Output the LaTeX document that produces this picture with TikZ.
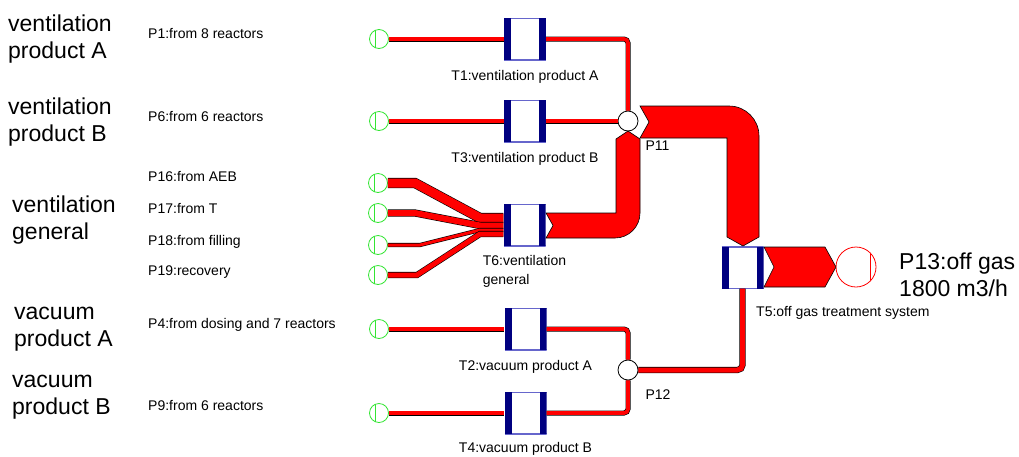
\documentclass[tikz,border=0pt]{standalone}
\usepackage{fontspec}
\setmainfont{Liberation Sans}
\usepackage{tikz}
\usetikzlibrary{positioning}
\definecolor{pipered}{rgb}{1,0,0}
\definecolor{tanknavy}{rgb}{0,0,0.5}
\definecolor{tankline}{rgb}{0.4,0.4,0.8}
\definecolor{srcgreen}{rgb}{0.2,0.9,0.2}
\tikzset{
    tank/.style={minimum width=42pt, minimum height=42pt, inner sep=0pt, fill=white,
        path picture={
            \draw[tankline, line width=2pt] (path picture bounding box.north west) -- (path picture bounding box.north east)
                (path picture bounding box.south west) -- (path picture bounding box.south east);
            \fill[tanknavy] (path picture bounding box.north west) rectangle ([xshift=7pt]path picture bounding box.south west);
            \fill[tanknavy] (path picture bounding box.north east) rectangle ([xshift=-7pt]path picture bounding box.south east);
        }},
    source/.style={circle, draw=srcgreen, line width=0.8pt, fill=white, minimum size=19pt, inner sep=0pt,
        path picture={\draw[srcgreen, line width=0.8pt] ([xshift=-4pt]path picture bounding box.north) -- ([xshift=-4pt]path picture bounding box.south);}},
    sink/.style={circle, draw=pipered, line width=0.8pt, fill=white, minimum size=40pt, inner sep=0pt,
        path picture={\draw[pipered, line width=0.8pt] ([xshift=14pt]path picture bounding box.north) -- ([xshift=14pt]path picture bounding box.south);}},
    junction/.style={circle, draw=black, line width=0.8pt, fill=white, minimum size=20pt, inner sep=0pt},
    pipe/.style={draw=pipered, line width=#1, preaction={draw=black, line width=#1+1.2pt}},
    pipe/.default=3.8pt,
    fatpipe/.style={fill=pipered, draw=black, line width=0.6pt},
    grouplabel/.style={anchor=west, inner sep=0pt, align=left, font=\fontsize{23}{27}\selectfont},
    plabel/.style={anchor=base west, inner sep=0pt, font=\fontsize{14}{17}\selectfont},
    tlabel/.style={inner sep=0pt, align=left, font=\fontsize{14}{19}\selectfont},
}

\begin{document}
\begin{tikzpicture}[x=1pt, y=-1pt]
    \useasboundingbox (0,0) rectangle (1019,456);

    % sources
    \node[source] (s1) at (379,39) {};
    \node[source] (s6) at (379,121) {};
    \node[source] (s16) at (378,183) {};
    \node[source] (s17) at (378,213) {};
    \node[source] (s18) at (378,245) {};
    \node[source] (s19) at (378,275) {};
    \node[source] (s4) at (379,329) {};
    \node[source] (s9) at (379,413) {};

    % tanks
    \node[tank] (T1) at (525,39) {};
    \node[tank] (T3) at (525,121) {};
    \node[tank] (T6) at (524.5,225) {};
    \node[tank] (T2) at (525.5,329) {};
    \node[tank] (T4) at (525.5,413) {};
    \node[tank] (T5) at (742.5,267.5) {};

    \node[junction] (P11) at (628,121) {};
    \node[junction] (P12) at (628,370) {};
    \node[sink] (P13) at (856,267) {};

    % thin pipes
    \draw[pipe] (s1) -- (T1);
    \draw[pipe] (s6) -- (T3);
    \draw[pipe] (s4) -- (T2);
    \draw[pipe] (s9) -- (T4);
    \draw[pipe, rounded corners=4pt] (T1) -| (P11);
    \draw[pipe] (T3) -- (P11);
    \draw[pipe, rounded corners=4pt] (T2) -| (P12);
    \draw[pipe, rounded corners=4pt] (T4) -| (P12);
    \draw[pipe=5pt, rounded corners=5pt] (P12) -| (T5);

    \draw[pipe=9pt] (s16) -- (415,183) -- (480,218) -- (T6.west |- 0,218);
    \draw[pipe=6pt] (s17) -- (415,213) -- (480,225.5) -- (T6.west |- 0,225.5);
    \draw[pipe=3pt] (s18) -- (420,245) -- (480,230) -- (T6.west |- 0,230);
    \draw[pipe=5pt] (s19) -- (417,275) -- (480,234) -- (T6.west |- 0,234);

    % fat pipes
    \filldraw[fatpipe] (546,213) -- (616,213) -- (616,139) -- (628,131) -- (640,139) -- (640,213)
        .. controls (640,226.8) and (628.8,238) .. (615,238) -- (546,238) -- (553,225.5) -- cycle;
    \filldraw[fatpipe] (640,106) -- (729,106) .. controls (745.6,106) and (759,119.4) .. (759,136)
        -- (759,237) -- (743,246) -- (727,237) -- (727,138) -- (640,138) -- (649,122) -- cycle;
    \filldraw[fatpipe] (764,247) -- (825,247) -- (836,267) -- (825,287) -- (764,287) -- (774,267) -- cycle;

    % labels
    \node[grouplabel] (gVA) at (8,39) {ventilation\\product A};
    \node[grouplabel] (gVB) at (8,122.5) {ventilation\\product B};
    \node[grouplabel] (gVG) at (12,220.5) {ventilation\\general};
    \node[grouplabel] (gPA) at (14,329.5) {vacuum\\product A};
    \node[grouplabel] (gPB) at (12,397.5) {vacuum\\product B};

    \node[plabel] (l1) at (148,38) {P1:from 8 reactors};
    \node[plabel] (l6) at (148,121.7) {P6:from 6 reactors};
    \node[plabel] (l16) at (148,181.7) {P16:from AEB};
    \node[plabel] (l17) at (148,213.3) {P17:from T};
    \node[plabel] (l18) at (148,245) {P18:from filling};
    \node[plabel] (l19) at (148,275) {P19:recovery};
    \node[plabel] (l4) at (148,328) {P4:from dosing and 7 reactors};
    \node[plabel] (l9) at (148,410) {P9:from 6 reactors};

    \node[tlabel, below=10pt of T1] (lT1) {T1:ventilation product A};
    \node[tlabel, below=10pt of T3] (lT3) {T3:ventilation product B};
    \node[tlabel, below=9pt of T6] (lT6) {T6:ventilation\\general};
    \node[tlabel, below=10pt of T2] (lT2) {T2:vacuum product A};
    \node[tlabel, below=8pt of T4] (lT4) {T4:vacuum product B};
    \node[plabel] (lT5) at (756,316) {T5:off gas treatment system};
    \node[tlabel, below right=12pt and 10pt of P11] (lP11) {P11};
    \node[tlabel, below right=12pt and 10pt of P12] (lP12) {P12};
    \node[grouplabel] (lP13) at (899,274.5) {P13:off gas\\1800 m3/h};
\end{tikzpicture}
\end{document}
